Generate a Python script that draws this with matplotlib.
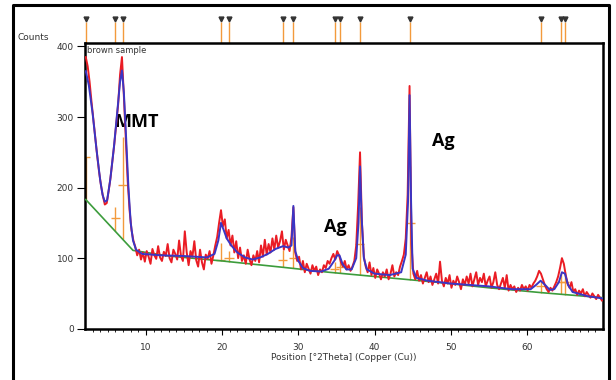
import numpy as np
import matplotlib
matplotlib.use("Agg")
from matplotlib import pyplot as plt
from matplotlib.lines import Line2D

# measured counts, 2theta grid starts at 2.1 with 0.25 step
counts = [
    385, 372, 350, 322, 296, 270, 245, 222, 203, 188, 176, 178, 195, 214, 238, 262,
    290, 318, 360, 385, 330, 270, 210, 168, 140, 125, 116,
    104, 112, 98, 108, 95, 110, 102, 92, 113, 104, 99, 117, 101, 96, 109, 103,
    120, 100, 94, 112, 106, 98, 125, 103, 96, 138, 108, 90, 110, 102, 124, 97,
    88, 112, 94, 84, 105, 99, 110, 92, 104, 118, 130, 150, 168, 145, 155, 128,
    140, 118, 132, 108, 124, 100, 115, 96, 104, 92, 112, 98, 90, 104, 96, 110,
    94, 118, 102, 126, 105, 120, 108, 128, 112, 132, 115, 124, 138, 112, 126, 118,
    110, 130, 172, 108, 96, 102, 84, 96, 80, 92, 85, 78, 90, 82, 88, 76,
    84, 80, 90, 86, 96, 92, 100, 106, 98, 110, 104, 94, 88, 96, 84, 90,
    82, 88, 96, 118, 175, 250, 150, 102, 88, 80, 94, 76, 86, 72, 84, 78,
    70, 80, 74, 84, 70, 78, 90, 74, 80, 76, 88, 96, 105, 128, 190, 344,
    120, 78, 70, 82, 68, 76, 64, 72, 80, 66, 74, 62, 70, 78, 64, 95,
    68, 60, 72, 64, 76, 58, 68, 62, 74, 66, 56, 70, 62, 74, 64, 78,
    60, 70, 80, 62, 72, 66, 78, 60, 68, 74, 58, 66, 80, 62, 56, 64,
    72, 58, 76, 54, 62, 56, 60, 52, 58, 54, 62, 56, 60, 54, 62, 58,
    64, 68, 74, 82, 78, 70, 62, 56, 52, 58, 54, 60, 66, 74, 86, 100,
    92, 76, 64, 58, 66, 52, 56, 48, 54, 50, 56, 46, 52, 48, 44, 50,
    46, 42, 48, 44, 40,
]
two_theta = 2.1 + 0.25 * np.arange(len(counts))

# fitted profile
fit_x = [2.1, 2.5, 3.0, 3.5, 4.0, 4.3, 4.6, 4.9, 5.3, 5.8, 6.3, 6.6, 6.85, 7.1, 7.4,
         7.7, 8.0, 8.3, 8.7, 9.5, 12, 15, 18, 19.0, 19.5, 19.85, 20.2, 20.6, 21.2,
         22, 23, 24, 25, 26, 27, 28, 28.7, 29.1, 29.35, 29.6, 30.0, 30.6, 31.5, 33,
         34.0, 34.7, 35.1, 35.4, 35.8, 36.3, 37.0, 37.6, 37.9, 38.1, 38.3, 38.6,
         39.0, 40, 42, 43.5, 44.1, 44.4, 44.6, 44.8, 45.0, 45.5, 47, 50, 55, 58,
         60.5, 61.2, 61.8, 62.4, 63, 63.6, 64.2, 64.6, 65.0, 65.4, 66, 68, 69.9]
fit_y = [365, 345, 305, 255, 210, 190, 180, 182, 210, 258, 315, 350, 366, 335, 270,
         200, 150, 125, 112, 106, 104, 103, 101, 106, 125, 150, 140, 128, 118,
         108, 101, 98, 101, 106, 113, 117, 115, 118, 174, 110, 96, 86, 82, 81,
         85, 96, 104, 104, 92, 84, 84, 100, 150, 230, 160, 100,
         84, 78, 76, 80, 105, 180, 331, 180, 85, 72, 68, 64, 60, 56,
         56, 62, 68, 62, 55, 56, 66, 80, 78, 62, 52, 46, 43]

# background
bg_x = [2.1, 8.3, 13, 20, 28, 34, 40, 48, 55, 62, 69.9]
bg_y = [183, 111, 103, 96, 87, 80, 74, 66, 58, 51, 44]

# reference peak positions and stick heights
ref_pos = [2.09, 5.95, 6.93, 19.81, 20.9, 27.96, 29.36, 34.78, 35.5, 38.07, 44.67,
           61.85, 64.48, 64.94]
ref_top = [244, 172, 272, 121, 110, 112, 130, 95, 98, 173, 230, 68, 80, 80]
ref_mid = [244, 157, 204, 97, 100, 97, 100, 85, 88, 120, 150, 60, 66, 66]

orange = "#f39a3c"

fig = plt.figure(figsize=(6.16, 3.8), dpi=100)
ax = fig.add_axes([0.138, 0.135, 0.841, 0.752])

bg_at_ref = np.interp(ref_pos, bg_x, bg_y)
ax.vlines(ref_pos, bg_at_ref, ref_top, color=orange, lw=1.0, zorder=2)
ax.hlines(ref_mid, np.array(ref_pos) - 0.6, np.array(ref_pos) + 0.6,
          color=orange, lw=1.0, zorder=2)

ax.plot(bg_x, bg_y, color="#3c9c3c", lw=1.2, zorder=3)
ax.plot(two_theta, counts, color="#ea1c24", lw=1.4, zorder=4)
ax.plot(fit_x, fit_y, color="#3b35c4", lw=1.4, zorder=5)

# reference markers above the plot
tr = ax.get_xaxis_transform()
ax.vlines(ref_pos, 1.0, 1.075, transform=tr, color=orange, lw=1.0, clip_on=False)
ax.plot(ref_pos, [1.085] * len(ref_pos), "v", color="#333333", ms=3.5,
        transform=tr, clip_on=False)

ax.set_xlim(2.0, 70.0)
ax.set_ylim(0, 405)
ax.set_xticks([10, 20, 30, 40, 50, 60])
ax.set_xticks(np.arange(3, 70, 1), minor=True)
ax.set_yticks([0, 100, 200, 300, 400])
ax.tick_params(axis="x", which="major", length=4, width=0.8, pad=6,
               labelsize=6.5, labelcolor="#333333")
ax.tick_params(axis="x", which="minor", length=2, width=0.6)
ax.tick_params(axis="y", length=6, width=0.8, pad=2, labelsize=6.5,
               labelcolor="#333333")
for s in ax.spines.values():
    s.set_linewidth(1.8)

ax.text(0.004, 0.99, "brown sample", transform=ax.transAxes, fontsize=6,
        va="top", ha="left", color="#333333")

ax.text(8.8, 293, "MMT", fontsize=13, fontweight="bold", family="Open Sans",
        ha="center", va="center")
ax.text(34.9, 144, "Ag", fontsize=13, fontweight="bold", family="Open Sans",
        ha="center", va="center")
ax.text(49.0, 266, "Ag", fontsize=13, fontweight="bold", family="Open Sans",
        ha="center", va="center")

fig.text(18 / 616, 1 - 37 / 380, "Counts", fontsize=6.5, color="#333333",
         ha="left", va="center")
fig.text(344 / 616, 22 / 380, "Position [°2Theta] (Copper (Cu))", fontsize=6.5,
         color="#333333", ha="center", va="center")

# outer frame
fig.add_artist(Line2D([13 / 616, 13 / 616, 609 / 616, 609 / 616],
                      [0, 1 - 5 / 380, 1 - 5 / 380, 0],
                      transform=fig.transFigure, color="black", lw=2.2))

fig.savefig("out.png", dpi=100)
